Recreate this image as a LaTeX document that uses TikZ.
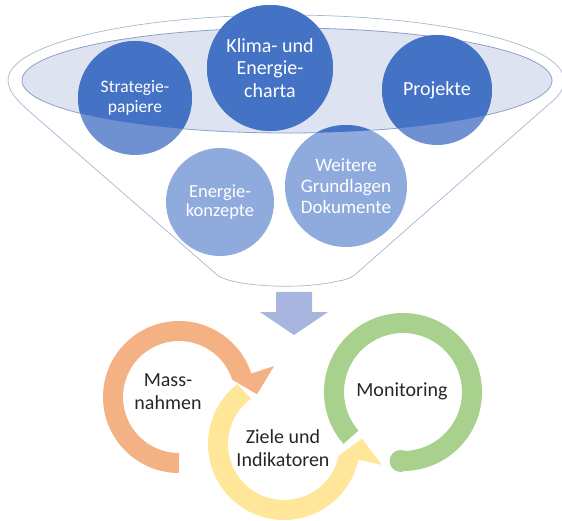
\documentclass[tikz,border=0pt]{standalone}
\usepackage{fontspec}
\setmainfont{Carlito}
\usetikzlibrary{backgrounds}
\definecolor{bluedeep}{HTML}{4472C4}
\definecolor{bluesoft}{HTML}{6F90D1}
\definecolor{bluepale}{HTML}{8FAADC}
\definecolor{lensfill}{HTML}{DEE3F1}
\definecolor{lensline}{HTML}{8E9FCA}
\definecolor{funnelline}{HTML}{A9B6D2}
\definecolor{arrowblue}{HTML}{A7B5DF}
\definecolor{orangering}{HTML}{F4B183}
\definecolor{yellowring}{HTML}{FFE699}
\definecolor{greenring}{HTML}{A9D18E}
\definecolor{ink}{HTML}{262626}
\tikzset{
  bubble/.style={circle, inner sep=0pt, align=center, text=white},
  ringlabel/.style={align=center, text=ink, font=\fontsize{20}{23}\selectfont},
  funnel/.style={draw=funnelline, line width=0.7pt, fill=white},
  lens/.style={draw=lensline, line width=0.8pt, fill=lensfill}
}

\begin{document}
\begin{tikzpicture}[x=1pt,y=1pt]
  \useasboundingbox (0,0) rectangle (562,-521);
  % documents in the funnel
  \node[bubble,minimum size=114pt,font=\fontsize{17.5}{20}\selectfont] (strat) at (135,-98) {Strategie-\\papiere};
  \node[bubble,minimum size=126pt,font=\fontsize{20}{22.5}\selectfont] (charta) at (270,-68) {Klima- und\\Energie-\\charta};
  \node[bubble,minimum size=110pt,font=\fontsize{20}{22}\selectfont] (proj) at (437,-90) {Projekte};
  \node[bubble,minimum size=108pt,font=\fontsize{18.5}{19.5}\selectfont] (konz) at (220,-202) {Energie-\\konzepte};
  \node[bubble,minimum size=122pt,font=\fontsize{19}{21}\selectfont] (weit) at (346,-186) {Weitere\\Grundlagen\\Dokumente};
  \begin{pgfonlayer}{background}
    \draw[funnel] (8,-80) arc[start angle=180,end angle=0,x radius=278,y radius=65]
      .. controls (564,-90) and (558,-97) .. (548,-105) -- (358,-272)
      .. controls (352,-278) and (346,-280) .. (338,-281)
      .. controls (310,-288) and (262,-288) .. (232,-281)
      .. controls (224,-279) and (219,-277) .. (215,-273) -- (30,-112)
      .. controls (18,-101) and (8,-92) .. (8,-80) -- cycle;
    \draw[lens] (287,-80.5) ellipse[x radius=265,y radius=52.5];
    \foreach \n/\rad/\col in {strat/57/bluesoft,charta/63/bluesoft,proj/55/bluesoft,konz/54/bluepale,weit/61/bluepale}
      \fill[\col] (\n.center) circle[radius=\rad];
    \begin{scope}
      \clip (22,-80.5) arc[start angle=180,end angle=360,x radius=265,y radius=52.5] -- (552,0) -- (22,0) -- cycle;
      \foreach \n/\rad in {strat/57,charta/63,proj/55,konz/54,weit/61}
        \fill[bluedeep] (\n.center) circle[radius=\rad];
    \end{scope}
  \end{pgfonlayer}
  % down arrow
  \fill[arrowblue] (276,-292) -- (312,-292) -- (312,-312) -- (328,-312) -- (294,-335)
    -- (260,-312) -- (276,-312) -- cycle;
  % cycle of three rings
  \begin{scope}[shift={(179,-397)}]
    \fill[orangering] (270:76) arc[start angle=270,end angle=18,radius=76] -- (18:100) -- (2:78)
      -- (18:56) arc[start angle=18,end angle=270,radius=56] -- cycle;
  \end{scope}
  \begin{scope}[shift={(284,-444)}]
    \fill[yellowring] (128:76) arc[start angle=128,end angle=348,radius=76] -- (348:100) -- (4:78)
      -- (348:56) arc[start angle=348,end angle=126,radius=56] -- cycle;
  \end{scope}
  \begin{scope}[shift={(403,-392)}]
    \fill[greenring] (221:79) arc[start angle=221,end angle=-92,radius=79]
      -- (-92:59) arc[start angle=-92,end angle=221,radius=59] -- cycle;
    \fill[greenring] (-92:69) circle[radius=11];
  \end{scope}
  \node[ringlabel] (mass) at (168,-392) {Mass-\\nahmen};
  \node[ringlabel] (ziele) at (283,-448) {Ziele und\\Indikatoren};
  \node[ringlabel] (moni) at (402,-391) {Monitoring};
\end{tikzpicture}
\end{document}
